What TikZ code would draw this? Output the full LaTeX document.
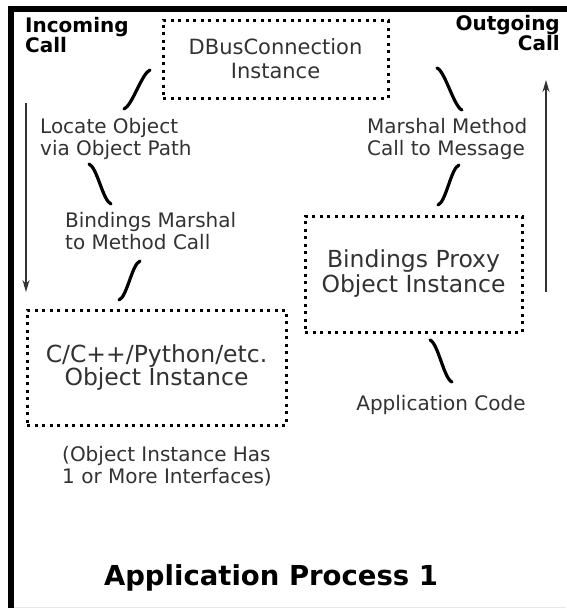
\documentclass[tikz,border=0pt]{standalone}
\usepackage{fontspec}
\setmainfont{DejaVu Sans}
\usetikzlibrary{arrows.meta}
\definecolor{txt}{RGB}{50,50,50}

\tikzset{
  dotbox/.style={draw=black, line width=3pt, dash pattern=on 3pt off 4.5pt,
    text=txt, align=center, inner sep=0pt},
  lbl/.style={text=txt, font=\fontsize{20}{22}\selectfont, align=left, inner sep=0pt},
  title/.style={text=black, font=\bfseries\fontsize{20}{17.5}\selectfont, inner sep=0pt},
  stroke/.style={line width=3.2pt, line cap=round, draw=black},
  flow/.style={line width=1.3pt, draw=txt, -{Stealth[length=12pt,width=7pt]}},
  frame/.style={line width=6pt, draw=black, line join=miter}
}

\begin{document}
\begin{tikzpicture}[x=1pt, y=-1pt]
  \useasboundingbox (0,0) rectangle (566,608);

  % process frame
  \draw[frame] (11,611) -- (11,9) -- (570,9);
  \draw[gray!18, line width=1pt] (14,607.5) -- (566,607.5);

  % corner titles
  \node[title, anchor=west, align=left] (incoming) at (25,35) {Incoming\\Call};
  \node[title, anchor=east, align=right] (outgoing) at (560,33) {Outgoing\\Call};

  % dotted object boxes
  \node[dotbox, minimum width=225pt, minimum height=78pt,
        font=\fontsize{21}{24}\selectfont] (dbus) at (275.5,59)
        {DBusConnection\\Instance};
  \node[dotbox, minimum width=217pt, minimum height=116pt,
        font=\fontsize{23.5}{25}\selectfont] (proxy) at (413.5,274)
        {Bindings Proxy\\Object Instance};
  \node[dotbox, minimum width=259pt, minimum height=115pt,
        font=\fontsize{23.5}{23.5}\selectfont] (obj) at (156.5,367.5)
        {C/C++/Python/etc.\\Object Instance};

  % step labels
  \node[lbl, anchor=west] (locate) at (40,139) {Locate Object\\via Object Path};
  \node[lbl, anchor=west] (unmarshal) at (65,231) {Bindings Marshal\\to Method Call};
  \node[lbl, anchor=west] (marshal) at (367,139) {Marshal Method\\Call to Message};
  \node[lbl] (appcode) at (441,405) {Application Code};
  \node[lbl, anchor=west] (ifaces) at (62,466) {(Object Instance Has\\1 or More Interfaces)};

  \node[text=black, font=\bfseries\fontsize{27.5}{27.5}\selectfont, inner sep=0pt]
    (process) at (271,578) {Application Process 1};

  % stroke end points
  \coordinate (s1a) at (150,70);  \coordinate (s1b) at (124,109);
  \coordinate (s2a) at (89,164);  \coordinate (s2b) at (111,204);
  \coordinate (s3a) at (140,261); \coordinate (s3b) at (119,300);
  \coordinate (s4a) at (437,68);  \coordinate (s4b) at (462,110);
  \coordinate (s5a) at (459,165); \coordinate (s5b) at (438,205);
  \coordinate (s6a) at (430,340); \coordinate (s6b) at (452,382);

  % connecting strokes
  \draw[stroke] (s1a) .. controls +(-8,3) and +(8,-3) .. (s1b);
  \draw[stroke] (s2a) .. controls +(8,3) and +(-8,-3) .. (s2b);
  \draw[stroke] (s3a) .. controls +(-8,3) and +(8,-3) .. (s3b);
  \draw[stroke] (s4a) .. controls +(8,3) and +(-8,-3) .. (s4b);
  \draw[stroke] (s5a) .. controls +(-8,3) and +(8,-3) .. (s5b);
  \draw[stroke] (s6a) .. controls +(8,3) and +(-8,-3) .. (s6b);

  % call direction arrows
  \coordinate (inTop) at (26,103);  \coordinate (inBot) at (26,292);
  \coordinate (outBot) at (546,292); \coordinate (outTop) at (546,80);
  \draw[flow] (inTop) -- (inBot);
  \draw[flow] (outBot) -- (outTop);
\end{tikzpicture}
\end{document}
